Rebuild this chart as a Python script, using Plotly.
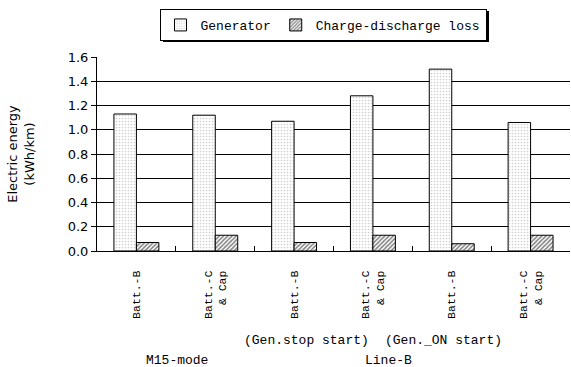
import plotly.graph_objects as go

categories = ["c1", "c2", "c3", "c4", "c5", "c6"]
tick_labels = ["Batt.-B", "Batt.-C<br>& Cap", "Batt.-B", "Batt.-C<br>& Cap", "Batt.-B", "Batt.-C<br>& Cap"]
generator = [1.13, 1.12, 1.07, 1.28, 1.50, 1.06]
loss = [0.07, 0.13, 0.07, 0.13, 0.06, 0.13]
y_ticks = [0.0, 0.2, 0.4, 0.6, 0.8, 1.0, 1.2, 1.4, 1.6]

W, H = 571, 367
L, R, T, B = 97, 1, 57, 116
pw, ph = W - L - R, H - T - B

def px(x):
    return (x - L) / pw

def py(y):
    return (H - B - y) / ph

mono = "Liberation Mono"
sans = "DejaVu Sans"

fig = go.Figure()
fig.add_trace(go.Bar(
    x=categories, y=generator, name="Generator",
    marker=dict(color="white", line=dict(color="black", width=1),
                pattern=dict(shape=".", size=3, solidity=0.25, fgcolor="#a0a0a0", bgcolor="white")),
))
fig.add_trace(go.Bar(
    x=categories, y=loss, name="Charge-discharge loss",
    marker=dict(color="white", line=dict(color="black", width=1),
                pattern=dict(shape="/", size=3, solidity=0.5, fgcolor="black", bgcolor="white")),
))

annots = [
    ("(Gen.stop start)", 306, 340),
    ("(Gen._ON start)", 443, 340),
    ("M15-mode", 177, 360),
    ("Line-B", 388, 360),
]
for text, ax, ay in annots:
    fig.add_annotation(text=text, xref="paper", yref="paper", x=px(ax), y=py(ay),
                       showarrow=False, xanchor="center", yanchor="middle",
                       font=dict(family=mono, size=13, color="black"))

# legend drop shadow
fig.add_shape(type="rect", xref="paper", yref="paper",
              x0=px(163), x1=px(489), y0=py(42), y1=py(11),
              fillcolor="black", line=dict(width=0), layer="above")

fig.update_layout(
    width=W, height=H,
    margin=dict(l=L, r=R, t=T, b=B),
    plot_bgcolor="white", paper_bgcolor="white",
    barmode="group", bargap=0.43, bargroupgap=0,
    showlegend=True,
    legend=dict(orientation="h", x=px(323), xanchor="center", y=py(9), yanchor="top",
                bordercolor="black", borderwidth=1, bgcolor="white",
                font=dict(family=mono, size=13, color="black")),
    xaxis=dict(
        type="category", tickmode="array", tickvals=categories, ticktext=tick_labels,
        tickangle=-90, tickson="boundaries", ticks="inside", ticklen=5, tickcolor="black",
        showline=True, linecolor="black", linewidth=1, showgrid=False,
        tickfont=dict(family=mono, size=11.5, color="black"),
        ticklabelstandoff=14,
    ),
    yaxis=dict(
        range=[0, 1.6], tickmode="array", tickvals=y_ticks,
        tickformat=".1f", ticks="outside", ticklen=5, tickcolor="black",
        showline=True, linecolor="black", linewidth=1,
        showgrid=True, gridcolor="black", gridwidth=1, zeroline=False,
        tickfont=dict(family=sans, size=13, color="black"),
        title=dict(text="Electric energy<br>(kWh/km)", standoff=30,
                   font=dict(family=sans, size=13, color="black")),
    ),
)

fig.write_html("out.html")
